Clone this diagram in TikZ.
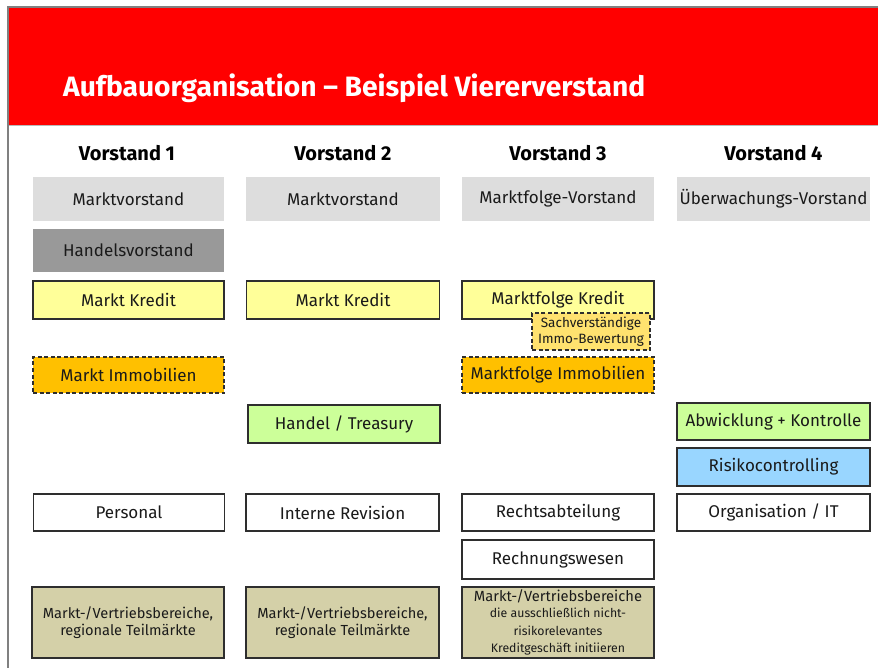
\documentclass[tikz,border=0pt]{standalone}
\usepackage{fontspec}
\setmainfont{Fira Sans}
\usepackage{graphicx}
\definecolor{bandred}{HTML}{FF0000}
\definecolor{framegray}{HTML}{808080}
\definecolor{boardgray}{HTML}{DDDDDD}
\definecolor{tradegray}{HTML}{999999}
\definecolor{credityellow}{HTML}{FFFF99}
\definecolor{estateorange}{HTML}{FFC000}
\definecolor{appraisal}{HTML}{FFE26F}
\definecolor{treasurygreen}{HTML}{CCFF99}
\definecolor{riskblue}{HTML}{99D6FF}
\definecolor{salestan}{HTML}{D4D0A8}
\definecolor{edge}{HTML}{2E2E2E}
\definecolor{ink}{HTML}{1A1A1A}
\tikzset{
  unit/.style={rectangle, inner sep=0pt, anchor=center, align=center, text=ink,
    font=\fontsize{17}{20}\selectfont},
  board/.style={unit, fill=boardgray},
  trade/.style={unit, fill=tradegray},
  framed/.style={unit, draw=edge, line width=1.1pt},
  credit/.style={framed, fill=credityellow},
  estate/.style={unit, fill=estateorange, draw=edge, line width=1.1pt, dash pattern=on 4pt off 2.5pt},
  appraise/.style={unit, fill=appraisal, draw=edge, line width=1.1pt, dash pattern=on 4pt off 2.5pt,
    font=\fontsize{13.5}{15.5}\selectfont},
  treasury/.style={framed, fill=treasurygreen},
  risk/.style={framed, fill=riskblue},
  staff/.style={framed, fill=white},
  sales/.style={framed, fill=salestan, font=\fontsize{14.6}{17.5}\selectfont},
  header/.style={anchor=center, inner sep=0pt, font=\bfseries\fontsize{20}{24}\selectfont},
}
\begin{document}
\begin{tikzpicture}[x=1pt,y=-1pt]
\useasboundingbox (0,0) rectangle (878,668);
\fill[white] (0,0) rectangle (878,668);

% title band and frame
\fill[bandred] (8,8) rectangle (878,125);
\draw[gray!55, line width=1pt] (8,125.5) -- (878,125.5);
\draw[framegray, line width=2pt] (878,7.5) -- (7.5,7.5) -- (7.5,668);
\node[anchor=base west, inner sep=0pt, text=white,
  font=\bfseries\fontsize{28}{32}\selectfont] (title) at (63,97)
  {\resizebox{582pt}{\height}{Aufbauorganisation -- Beispiel Viererverstand}};

% board headers
\node[header] (h1) at (127,153) {Vorstand 1};
\node[header] (h2) at (343,153) {Vorstand 2};
\node[header] (h3) at (558,153) {Vorstand 3};
\node[header] (h4) at (773.5,153) {Vorstand 4};

% board functions
\node[board, minimum width=191pt, minimum height=44pt] (b1) at (128.5,199) {Marktvorstand};
\node[board, minimum width=194pt, minimum height=44pt] (b2) at (343,199) {Marktvorstand};
\node[board, minimum width=192pt, minimum height=44pt] (b3) at (558,199) {Marktfolge-Vorstand};
\node[board, minimum width=193pt, minimum height=44pt] (b4) at (773.5,199) {Überwachungs-Vorstand};
\node[trade, minimum width=191pt, minimum height=43pt] (t1) at (128.5,250.5) {Handelsvorstand};

% credit and real estate
\node[credit, minimum width=191pt, minimum height=38pt] (k1) at (128.5,300) {Markt Kredit};
\node[credit, minimum width=193pt, minimum height=38pt] (k2) at (343,300) {Markt Kredit};
\node[credit, minimum width=192pt, minimum height=38pt] (k3) at (558,300) {Marktfolge Kredit};
\node[appraise, minimum width=118pt, minimum height=37pt] (sv) at (591,331.5)
  {Sachverständige\\Immo-Bewertung};
\node[estate, minimum width=191pt, minimum height=36pt] (i1) at (128.5,375) {Markt Immobilien};
\node[estate, minimum width=192pt, minimum height=36pt] (i3) at (558,375) {Marktfolge Immobilien};

% trading, settlement, risk
\node[treasury, minimum width=192pt, minimum height=38pt] (tr) at (344,424) {Handel / Treasury};
\node[treasury, minimum width=193pt, minimum height=37pt] (ab) at (773.5,421.5) {Abwicklung + Kontrolle};
\node[risk, minimum width=193pt, minimum height=38pt] (rc) at (773.5,467) {Risikocontrolling};

% staff units
\node[staff, minimum width=191pt, minimum height=37pt] (s1) at (129,512.5) {Personal};
\node[staff, minimum width=193pt, minimum height=37pt] (s2) at (342.5,512.5) {Interne Revision};
\node[staff, minimum width=192pt, minimum height=37pt] (s3) at (558,512.5) {Rechtsabteilung};
\node[staff, minimum width=193pt, minimum height=37pt] (s4) at (773.5,512.5) {Organisation / IT};
\node[staff, minimum width=192pt, minimum height=39pt] (s5) at (558,559.5) {Rechnungswesen};

% sales units
\node[sales, minimum width=192pt, minimum height=71pt] (v1) at (128,622.5)
  {Markt-/Vertriebsbereiche,\\regionale Teilmärkte};
\node[sales, minimum width=193pt, minimum height=71pt] (v2) at (342.5,622.5)
  {Markt-/Vertriebsbereiche,\\regionale Teilmärkte};
\node[sales, minimum width=192pt, minimum height=71pt] (v3) at (558,622.5)
  {{\fontsize{14.7}{17}\selectfont Markt-/Vertriebsbereiche}\\[-1pt]
   {\fontsize{12.3}{14.5}\selectfont die ausschließlich nicht-}\\
   {\fontsize{12.3}{14.5}\selectfont risikorelevantes}\\
   {\fontsize{12.3}{14.5}\selectfont Kreditgeschäft initiieren}};
\end{tikzpicture}
\end{document}
